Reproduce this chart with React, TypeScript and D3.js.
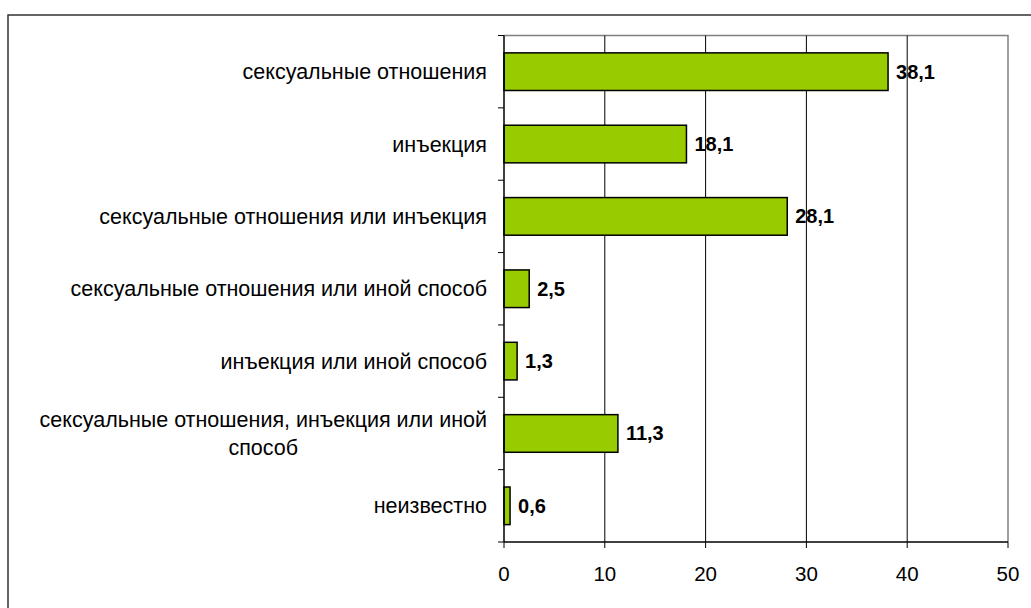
import React, { useEffect, useRef } from "react";
import * as d3 from "d3";

const categories = [
  "сексуальные отношения",
  "инъекция",
  "сексуальные отношения или инъекция",
  "сексуальные отношения или иной способ",
  "инъекция или иной способ",
  "сексуальные отношения, инъекция или иной способ",
  "неизвестно",
];
const values = [38.1, 18.1, 28.1, 2.5, 1.3, 11.3, 0.6];
const xTicks = [0, 10, 20, 30, 40, 50];

const W = 1031;
const H = 608;
const plot = { left: 504, right: 1008, top: 35.5, bottom: 542 };
const FONT = "Arial, 'Liberation Sans', sans-serif";
const labelRight = 487;
const maxLabelWidth = 470;
const catFontSize = 21.5;

export default function App() {
  const ref = useRef<SVGSVGElement | null>(null);

  useEffect(() => {
    const svg = d3.select(ref.current);
    svg.selectAll("*").remove();

    const x = d3.scaleLinear().domain([0, 50]).range([plot.left, plot.right]);
    const y = d3
      .scaleBand<string>()
      .domain(categories)
      .range([plot.top, plot.bottom])
      .paddingInner(0.48)
      .paddingOuter(0.24);
    const step = y.step();

    // outer chart frame
    svg
      .append("rect")
      .attr("x", 8)
      .attr("y", 15)
      .attr("width", W + 20)
      .attr("height", H + 20)
      .attr("fill", "#fff")
      .attr("stroke", "#333")
      .attr("stroke-width", 1.5);

    // plot area border (top and right)
    svg
      .append("path")
      .attr("d", `M${plot.left},${plot.top}H${plot.right}V${plot.bottom}`)
      .attr("fill", "none")
      .attr("stroke", "#808080")
      .attr("stroke-width", 1.5);

    // vertical gridlines
    svg
      .append("g")
      .selectAll("line")
      .data(xTicks.filter((t) => t > 0 && t < 50))
      .join("line")
      .attr("x1", (d) => x(d))
      .attr("x2", (d) => x(d))
      .attr("y1", plot.top)
      .attr("y2", plot.bottom)
      .attr("stroke", "#000")
      .attr("stroke-width", 1);

    // bars
    svg
      .append("g")
      .selectAll("rect")
      .data(values)
      .join("rect")
      .attr("x", x(0))
      .attr("y", (_, i) => y(categories[i])!)
      .attr("width", (d) => x(d) - x(0))
      .attr("height", y.bandwidth())
      .attr("fill", "#99CC00")
      .attr("stroke", "#000")
      .attr("stroke-width", 1.5);

    // value labels
    svg
      .append("g")
      .selectAll("text")
      .data(values)
      .join("text")
      .attr("x", (d) => x(d) + 8)
      .attr("y", (_, i) => y(categories[i])! + y.bandwidth() / 2)
      .attr("dy", "0.35em")
      .attr("font-family", FONT)
      .attr("font-size", 20)
      .attr("font-weight", "bold")
      .attr("fill", "#000")
      .text((d) => String(d).replace(".", ","));

    // y axis line and ticks at category boundaries
    svg
      .append("line")
      .attr("x1", plot.left)
      .attr("x2", plot.left)
      .attr("y1", plot.top)
      .attr("y2", plot.bottom)
      .attr("stroke", "#000")
      .attr("stroke-width", 1.5);
    svg
      .append("g")
      .selectAll("line")
      .data(d3.range(categories.length + 1))
      .join("line")
      .attr("x1", plot.left - 6)
      .attr("x2", plot.left)
      .attr("y1", (i) => plot.top + i * step)
      .attr("y2", (i) => plot.top + i * step)
      .attr("stroke", "#000")
      .attr("stroke-width", 1);

    // x axis
    svg
      .append("line")
      .attr("x1", plot.left)
      .attr("x2", plot.right)
      .attr("y1", plot.bottom)
      .attr("y2", plot.bottom)
      .attr("stroke", "#000")
      .attr("stroke-width", 1.5);
    const xg = svg.append("g");
    xg.selectAll("line")
      .data(xTicks)
      .join("line")
      .attr("x1", (d) => x(d))
      .attr("x2", (d) => x(d))
      .attr("y1", plot.bottom)
      .attr("y2", plot.bottom + 6)
      .attr("stroke", "#000")
      .attr("stroke-width", 1);
    xg.selectAll("text")
      .data(xTicks)
      .join("text")
      .attr("x", (d) => x(d))
      .attr("y", 580.5)
      .attr("text-anchor", "middle")
      .attr("font-family", FONT)
      .attr("font-size", 20.5)
      .attr("fill", "#000")
      .text((d) => String(d));

    // category labels, wrapped and centred as a block right-aligned to the axis
    const lineHeight = 28.5;
    categories.forEach((cat, i) => {
      const cy = y(cat)! + y.bandwidth() / 2;
      const t = svg
        .append("text")
        .attr("font-family", FONT)
        .attr("font-size", catFontSize)
        .attr("fill", "#000");
      const words = cat.split(" ");
      const lines: string[] = [];
      let cur = "";
      const probe = t.append("tspan");
      words.forEach((w) => {
        const test = cur ? cur + " " + w : w;
        probe.text(test);
        if ((probe.node() as SVGTSpanElement).getComputedTextLength() > maxLabelWidth && cur) {
          lines.push(cur);
          cur = w;
        } else {
          cur = test;
        }
      });
      lines.push(cur);
      const widths = lines.map((l) => {
        probe.text(l);
        return (probe.node() as SVGTSpanElement).getComputedTextLength();
      });
      probe.remove();
      const blockW = Math.max(...widths);
      const cx = labelRight - blockW / 2;
      const y0 = cy - ((lines.length - 1) * lineHeight) / 2;
      t.attr("text-anchor", "middle");
      lines.forEach((l, k) => {
        t.append("tspan")
          .attr("x", cx)
          .attr("y", y0 + k * lineHeight)
          .attr("dy", "0.35em")
          .text(l);
      });
    });
  }, []);

  return (
    <svg
      ref={ref}
      width={W}
      height={H}
      style={{ position: "absolute", left: 0, top: 0, background: "#fff" }}
    />
  );
}
